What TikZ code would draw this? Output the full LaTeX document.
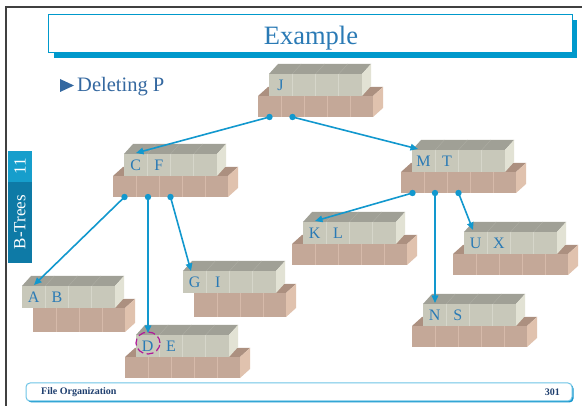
\documentclass[tikz,border=0pt]{standalone}
\usepackage{fontspec}
\setmainfont{Liberation Serif}
\usetikzlibrary{arrows.meta}
\definecolor{gfront}{RGB}{200,200,186}
\definecolor{gtop}{RGB}{160,160,150}
\definecolor{gside}{RGB}{226,226,212}
\definecolor{gline}{RGB}{214,214,202}
\definecolor{gtopline}{RGB}{172,172,162}
\definecolor{pfront}{RGB}{196,168,152}
\definecolor{ptop}{RGB}{172,144,128}
\definecolor{pside}{RGB}{224,194,174}
\definecolor{pline}{RGB}{214,186,170}
\definecolor{arrowc}{RGB}{18,152,206}
\definecolor{keyc}{RGB}{42,122,181}
\definecolor{titlec}{RGB}{0,153,204}
\definecolor{titletext}{RGB}{42,122,181}
\definecolor{delc}{RGB}{52,104,160}
\definecolor{tabtop}{RGB}{22,158,204}
\definecolor{tabbot}{RGB}{14,122,166}
\definecolor{framec}{RGB}{64,64,64}
\definecolor{footline}{RGB}{110,196,230}
\definecolor{footsh}{RGB}{20,150,205}
\definecolor{foottext}{RGB}{30,62,110}
\definecolor{circc}{RGB}{176,24,154}
\tikzset{
  keylbl/.style={text=keyc, font=\fontsize{16}{16}\selectfont, inner sep=0pt},
  ptrdot/.style={circle, fill=arrowc, inner sep=0pt, minimum size=6.4pt},
  ptr/.style={draw=arrowc, line width=1.6pt, -{Triangle[length=7.5pt,width=6.5pt]}},
  tabtext/.style={text=white, font=\fontsize{17}{17}\selectfont, rotate=90, inner sep=0pt},
  foottxt/.style={text=foottext, font=\bfseries\fontsize{10}{10}\selectfont, inner sep=0pt}
}
% pointer block: left, front top, front bottom, width, divider offsets
\newcommand{\ptrbox}[5]{%
  \fill[ptop] (#1,#2) -- (#1+10,#2-9) -- (#1+#4+10,#2-9) -- (#1+#4,#2) -- cycle;
  \fill[pside] (#1+#4,#2) -- (#1+#4+10,#2-9) -- (#1+#4+10,#3-9) -- (#1+#4,#3) -- cycle;
  \fill[pfront] (#1,#2) rectangle (#1+#4,#3);
  \foreach \k in {#5} {\draw[pline, line width=0.8pt] (#1+\k,#2) -- (#1+\k,#3);}
}
% key block: left, bottom
\newcommand{\keybox}[2]{%
  \fill[gtop] (#1,#2-22) -- (#1+9,#2-32) -- (#1+102,#2-32) -- (#1+93,#2-22) -- cycle;
  \fill[gside] (#1+93,#2-22) -- (#1+102,#2-32) -- (#1+102,#2-10) -- (#1+93,#2) -- cycle;
  \fill[gfront] (#1,#2-22) rectangle (#1+93,#2);
  \foreach \k in {23.25,46.5,69.75} {\draw[gline, line width=0.8pt] (#1+\k,#2-22) -- (#1+\k,#2);
    \draw[gtopline, line width=0.5pt] (#1+\k,#2-22) -- (#1+\k+9,#2-32);}
}
\begin{document}
\begin{tikzpicture}[x=1pt,y=-1pt]
\useasboundingbox (0,0) rectangle (582,406);
\fill[white] (0,0) rectangle (582,406);
% frame
\draw[framec, line width=2.5pt] (6,406) -- (6,7) -- (582,7);
% title
\fill[titlec] (54,20) rectangle (577,58);
\filldraw[fill=white, draw=titlec, line width=1pt] (48,15) rectangle (572,53);
\node[text=titletext, font=\fontsize{26.5}{30}\selectfont, anchor=base, inner sep=0pt] (title) at (311,45) {Example};
% bullet
\fill[delc] (60,79) -- (74,85.5) -- (60,92) -- cycle;
\node[text=delc, font=\fontsize{20.5}{22}\selectfont, anchor=base west, inner sep=0pt] (del) at (77,92) {Deleting P};
% side tab
\fill[tabtop] (8,151) rectangle (32,182);
\fill[tabbot] (8,182) rectangle (32,263);
\node[tabtext] (tab11) at (20,166) {11};
\node[tabtext] (tabbt) at (20,222) {B-Trees};
% footer
\fill[footsh, rounded corners=4pt] (27.5,384.5) rectangle (573.5,402.5);
\filldraw[fill=white, draw=footline, line width=1pt, rounded corners=4pt] (26,383) rectangle (572,401);
\node[foottxt, anchor=west] (foot) at (41,392) {File Organization};
\node[foottxt, anchor=east] (page) at (560,392) {301};

% ---- B-tree nodes ----
% J
\ptrbox{258}{96}{117}{115}{23,46,69,92}
\keybox{269}{96}
\node[keylbl] (J1) at (280.6,85) {J};
% C F
\ptrbox{113}{176}{197}{115}{23,46,69,92}
\keybox{124}{176}
\node[keylbl] (C1) at (135.6,165) {C};
\node[keylbl] (F1) at (158.9,165) {F};
% M T
\ptrbox{401}{172}{193}{115}{23,46,69,92}
\keybox{412}{172}
\node[keylbl] (M1) at (423.6,161) {M};
\node[keylbl] (T1) at (446.9,161) {T};
% K L
\ptrbox{292}{244}{265}{115}{23,46,69,92}
\keybox{303}{244}
\node[keylbl] (K1) at (314.6,233) {K};
\node[keylbl] (L1) at (337.9,233) {L};
% U X
\ptrbox{453}{254}{275}{115}{23,46,69,92}
\keybox{464}{254}
\node[keylbl] (U1) at (475.6,243) {U};
\node[keylbl] (X1) at (498.9,243) {X};
% N S
\ptrbox{412}{326}{347}{115}{23,46,69,92}
\keybox{423}{326}
\node[keylbl] (N1) at (434.6,315) {N};
\node[keylbl] (S1) at (457.9,315) {S};
% D E
\ptrbox{125}{357}{378}{115}{23,46,69,92}
\keybox{136}{357}
\node[keylbl] (D1) at (147.6,346) {D};
\node[keylbl] (E1) at (170.9,346) {E};
% A B
\ptrbox{33}{308}{332}{92}{23,46,69}
\keybox{22}{308}
\node[keylbl] (A1) at (33.6,297) {A};
\node[keylbl] (B1) at (56.9,297) {B};
% G I
\ptrbox{194}{293}{317}{92}{23,46,69}
\keybox{183}{293}
\node[keylbl] (G1) at (194.6,282) {G};
\node[keylbl] (I1) at (217.9,282) {I};

% deleted key mark
\draw[circc, line width=1.2pt, dash pattern=on 7pt off 3.5pt] (148,343) ellipse [x radius=12pt, y radius=11pt];

% targets
\coordinate (CFt) at (136,153);
\coordinate (MTt) at (418,149);
\coordinate (ABt) at (34,285);
\coordinate (DEt) at (148,333);
\coordinate (GIt) at (191,271);
\coordinate (KLt) at (315,221);
\coordinate (NSt) at (435,303);
\coordinate (UXt) at (473,230);
% pointer dots
\node[ptrdot] (Jd1) at (269.5,117) {};
\node[ptrdot] (Jd2) at (292.5,117) {};
\node[ptrdot] (CFd1) at (124.5,197) {};
\node[ptrdot] (CFd2) at (148,197) {};
\node[ptrdot] (CFd3) at (170.5,197) {};
\node[ptrdot] (MTd1) at (412.5,193) {};
\node[ptrdot] (MTd2) at (435,193) {};
\node[ptrdot] (MTd3) at (458.5,193) {};
% connectors
\draw[ptr] (Jd1.center) -- (CFt);
\draw[ptr] (Jd2.center) -- (MTt);
\draw[ptr] (CFd1.center) -- (ABt);
\draw[ptr] (CFd2.center) -- (DEt);
\draw[ptr] (CFd3.center) -- (GIt);
\draw[ptr] (MTd1.center) -- (KLt);
\draw[ptr] (MTd2.center) -- (NSt);
\draw[ptr] (MTd3.center) -- (UXt);
\end{tikzpicture}
\end{document}
